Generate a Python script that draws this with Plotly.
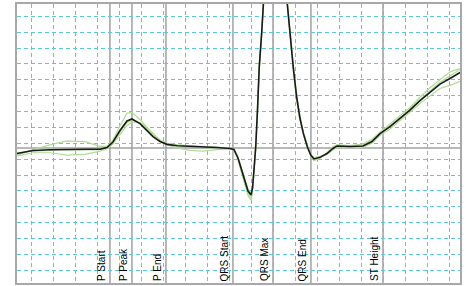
import plotly.graph_objects as go

# time (ms) and amplitude (mV)
t_ms = [-13.6, 0.9, 16.4, 31.8, 48.2, 61.8, 68.2, 73.6, 80.0, 86.4, 90.9, 98.2, 104.5, 110.0,
        116.4, 122.7, 131.8, 143.6, 155.5, 168.2, 180.0, 183.6, 187.3, 191.8, 196.4, 199.1,
        200.5, 201.8, 203.4, 205.0, 206.6, 208.8, 210.9, 212.7, 216.4, 220.9, 225.5, 229.1,
        232.1, 234.5, 237.5, 240.6, 243.6, 246.6, 250.3, 253.4, 256.4, 261.8, 268.2, 273.6,
        277.3, 289.1, 300.9, 309.1, 316.4, 325.5, 334.5, 343.6, 352.7, 361.8, 370.9, 380.0, 389.1]

avg_beat = [-0.035, -0.016, -0.011, -0.008, -0.008, -0.008, 0.003, 0.038, 0.110, 0.170, 0.183,
            0.154, 0.113, 0.072, 0.041, 0.023, 0.014, 0.011, 0.008, 0.003, -0.003, -0.009,
            -0.063, -0.170, -0.271, -0.296, -0.252, -0.139, 0.006, 0.239, 0.510, 0.725, 0.907,
            1.122, 1.689, 2.130, 1.941, 1.185, 0.907, 0.725, 0.510, 0.321, 0.189, 0.095, 0.008,
            -0.044, -0.069, -0.059, -0.035, -0.003, 0.013, 0.009, 0.013, 0.041, 0.091, 0.135,
            0.186, 0.239, 0.299, 0.353, 0.403, 0.438, 0.476]

beat_1 = [-0.045, -0.010, 0.020, 0.045, 0.040, 0.010, 0.010, 0.050, 0.140, 0.220, 0.225, 0.180,
          0.130, 0.085, 0.050, 0.030, 0.020, 0.015, 0.012, 0.005, 0.000, -0.010, -0.070, -0.180,
          -0.285, -0.320, -0.270, -0.150, 0.000, 0.230, 0.500, 0.720, 0.900, 1.110, 1.680, 2.120,
          1.950, 1.200, 0.920, 0.740, 0.525, 0.335, 0.200, 0.100, 0.010, -0.050, -0.080, -0.065,
          -0.030, 0.010, 0.020, 0.015, 0.025, 0.055, 0.100, 0.150, 0.200, 0.255, 0.320, 0.380,
          0.430, 0.480, 0.500]

beat_2 = [-0.050, -0.030, -0.030, -0.045, -0.040, -0.020, -0.005, 0.025, 0.085, 0.140, 0.165,
          0.160, 0.130, 0.090, 0.050, 0.020, 0.000, -0.015, -0.020, -0.010, -0.005, -0.005,
          -0.055, -0.160, -0.260, -0.285, -0.240, -0.130, 0.015, 0.250, 0.520, 0.735, 0.915,
          1.130, 1.700, 2.140, 1.930, 1.170, 0.895, 0.710, 0.495, 0.305, 0.175, 0.085, 0.000,
          -0.040, -0.060, -0.052, -0.040, -0.012, 0.003, 0.000, 0.005, 0.030, 0.080, 0.120,
          0.170, 0.225, 0.280, 0.330, 0.375, 0.395, 0.420]

beat_3 = [-0.030, -0.020, -0.015, -0.010, -0.012, -0.010, 0.000, 0.030, 0.100, 0.160, 0.178,
          0.158, 0.120, 0.078, 0.045, 0.028, 0.018, 0.010, 0.004, 0.000, -0.002, -0.012,
          -0.075, -0.190, -0.300, -0.330, -0.280, -0.160, -0.010, 0.225, 0.495, 0.710, 0.895,
          1.115, 1.690, 2.125, 1.945, 1.190, 0.915, 0.730, 0.515, 0.330, 0.195, 0.098, 0.012,
          -0.048, -0.075, -0.062, -0.032, 0.002, 0.018, 0.005, 0.018, 0.050, 0.095, 0.142,
          0.190, 0.245, 0.305, 0.360, 0.415, 0.455, 0.495]

marker_names = ["P Start", "P Peak", "P End", "QRS Start", "QRS Max", "QRS End", "ST Height"]
marker_t = [70.9, 90.9, 121.8, 182.7, 219.1, 253.6, 319.1]

fig = go.Figure()
for b in (beat_1, beat_2, beat_3):
    fig.add_trace(go.Scatter(x=t_ms, y=b, mode="lines",
                             line=dict(color="#b0dc98", width=1.2), hoverinfo="skip"))
fig.add_trace(go.Scatter(x=t_ms, y=avg_beat, mode="lines",
                         line=dict(color="#1a1a1a", width=1.6)))

for name, mt in zip(marker_names, marker_t):
    fig.add_shape(type="line", x0=mt, x1=mt, y0=0, y1=1, xref="x", yref="paper",
                  line=dict(color="#a0a0a0", width=1.5), layer="below")
    fig.add_annotation(x=mt, y=0, xref="x", yref="paper", text=name, showarrow=False,
                       textangle=-90, xanchor="right", yanchor="bottom", xshift=-1,
                       font=dict(family="Liberation Sans, Arial", size=10, color="#000000"))

fig.add_shape(type="line", x0=0, x1=1, y0=0, y1=0, xref="paper", yref="y",
              line=dict(color="#a0a0a0", width=1.5), layer="below")

fig.update_layout(
    template="none",
    width=466, height=286,
    margin=dict(l=17, r=6, t=4, b=3),
    paper_bgcolor="white", plot_bgcolor="white",
    showlegend=False,
    xaxis=dict(range=[-13.6, 389.1], tickmode="linear", tick0=0, dtick=20,
               showticklabels=False, ticks="", minor=dict(showgrid=False, ticks=""),
               showgrid=True, gridcolor="#5cc8dc", griddash="4px,3px", gridwidth=1,
               zeroline=False, showline=True, mirror=True, linecolor="#a8a8a8", linewidth=2),
    yaxis=dict(range=[-0.8507, 0.9074], tickmode="linear", tick0=0.0296, dtick=0.1,
               showticklabels=False, ticks="", minor=dict(showgrid=False, ticks=""),
               showgrid=True, gridcolor="#5cc8dc", griddash="4px,3px", gridwidth=1,
               zeroline=False, showline=True, mirror=True, linecolor="#a8a8a8", linewidth=2),
)

fig.write_html("out.html", config={"displayModeBar": False},
               post_script="document.body.style.margin='0';document.body.style.padding='0';")
